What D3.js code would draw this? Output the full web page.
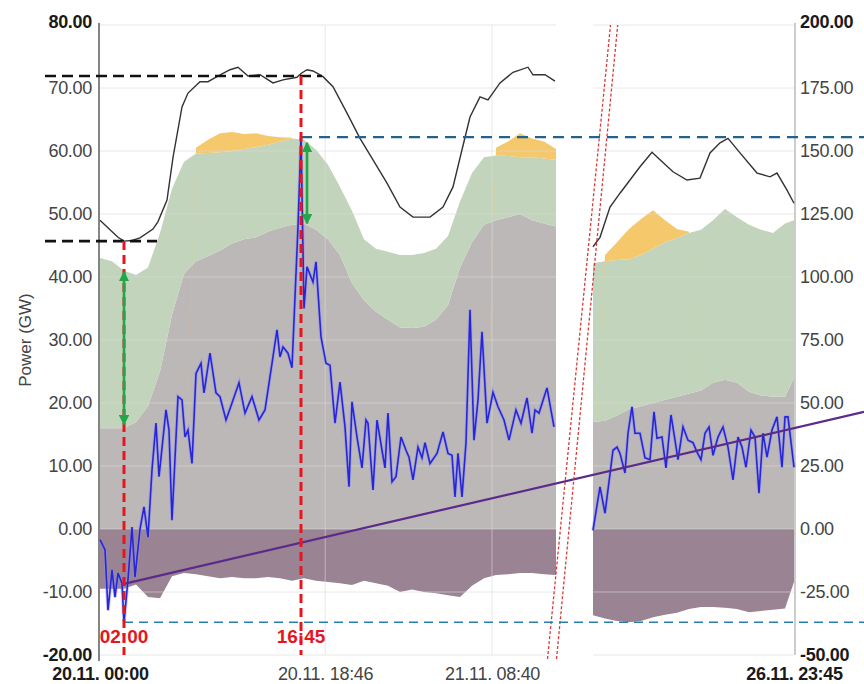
<!DOCTYPE html>
<html>
<head>
<meta charset="utf-8">
<script src="https://cdn.jsdelivr.net/npm/d3@7"></script>
<style>
  body { margin: 0; background: #fff; }
  svg { font-family: "Liberation Sans", Arial, sans-serif; }
</style>
</head>
<body>
<svg id="chart" width="864" height="684"></svg>
<script>
// values (power in GW)

// the time axis is broken: two sections, 20.11 - 21.11 and 26.11
var sectionBounds = ["20.11. 00:00", "21.11. 14:00", "26.11. 07:00", "26.11. 23:45"];
var xTickLabels = ["20.11. 00:00", "20.11. 18:46", "21.11. 08:40", "26.11. 23:45"];
var leftTicks = [80, 70, 60, 50, 40, 30, 20, 10, 0, -10, -20];
var rightTicks = [200, 175, 150, 125, 100, 75, 50, 25, 0, -25, -50];

// hourly stacked layers, first section
var areaTimesLeft = [
  "20.11. 00:00", "20.11. 01:00", "20.11. 02:00", "20.11. 03:00", "20.11. 04:00", "20.11. 05:00",
  "20.11. 06:00", "20.11. 07:00", "20.11. 08:00", "20.11. 09:00", "20.11. 10:00", "20.11. 11:00",
  "20.11. 12:00", "20.11. 13:00", "20.11. 14:00", "20.11. 15:00", "20.11. 16:00", "20.11. 17:00",
  "20.11. 18:00", "20.11. 19:00", "20.11. 20:00", "20.11. 21:00", "20.11. 22:00", "20.11. 23:00",
  "21.11. 00:00", "21.11. 01:00", "21.11. 02:00", "21.11. 03:00", "21.11. 04:00", "21.11. 05:00",
  "21.11. 06:00", "21.11. 07:00", "21.11. 08:00", "21.11. 09:00", "21.11. 10:00", "21.11. 11:00",
  "21.11. 12:00", "21.11. 13:00", "21.11. 14:00"
];
var negLeft = [-9.5, -9.5, -9.5, -8.8, -10.8, -11, -7.5, -7, -7.2, -7.5, -7.8, -7.6, -7.8, -7.8, -7.6,
  -7.8, -8.2, -7.8, -8.2, -8.4, -8.6, -8.9, -8.2, -8.6, -9, -10, -9.6, -10, -10.2, -10.5, -10.8, -9,
  -7.8, -7.3, -7.2, -7, -7, -7.2, -7.3];
var grayLeft = [16, 16, 16, 17, 19.5, 25, 34, 40.5, 42.5, 43.3, 44.2, 45.3, 46, 46.3, 47.2, 47.8,
  48.3, 48.5, 47.5, 46, 43.5, 39, 36.3, 34.5, 33.2, 32, 31.9, 32.1, 33.2, 35.5, 41.5, 45.5, 48.3, 49,
  49.5, 50, 49, 48.5, 48];
var greenLeft = [27, 26.5, 25, 23.3, 22, 22, 20, 17.8, 17.1, 16.4, 15.6, 14.7, 14.3, 14.3, 13.8, 13.7,
  13.7, 13.3, 12.7, 11.8, 10.8, 11.5, 9.7, 10, 10.8, 11.5, 11.6, 11.7, 11.3, 11, 10.5, 11, 10.7, 10.3,
  9.7, 9, 10, 10.3, 10.6];
var orangeLeft = [0, 0, 0, 0, 0, 0, 0, 0, 0.9, 2.1, 3, 3, 2.4, 2.2, 1.4, 0.7, 0.1, 0, 0, 0, 0, 0, 0, 0,
  0, 0, 0, 0, 0, 0, 0, 0, 0, 1.2, 2.3, 3.8, 3, 2.7, 1.7];

// hourly stacked layers, second section
var areaTimesRight = [
  "26.11. 07:00", "26.11. 08:00", "26.11. 09:00", "26.11. 10:00", "26.11. 11:00", "26.11. 12:00",
  "26.11. 13:00", "26.11. 14:00", "26.11. 15:00", "26.11. 16:00", "26.11. 17:00", "26.11. 18:00",
  "26.11. 19:00", "26.11. 20:00", "26.11. 21:00", "26.11. 22:00", "26.11. 23:00", "26.11. 23:45"
];
var negRight = [-13.7, -14.2, -14.6, -14.8, -14.6, -14, -13.6, -13.3, -12.7, -12.4, -12.4, -12.5, -12.7,
  -13.2, -13, -12.8, -12.6, -8.4];
var grayRight = [17, 17.2, 18, 19, 19.5, 20, 20.5, 21, 21.5, 22, 23.2, 23.7, 23.2, 21.8, 21.2, 21, 21, 24];
var greenRight = [25.2, 25.3, 24.7, 23.8, 24, 24.5, 25, 25.2, 25.5, 25.5, 25.8, 27.1, 26.3, 26.5, 26.3,
  26, 27.5, 25];
var orangeRight = [0, 1, 2.8, 4.8, 5.7, 6.1, 3.5, 1.4, 0.2, 0, 0, 0, 0, 0, 0, 0, 0, 0];

// load (black line)
var loadLeft = [
  ["20.11. 00:00", 49], ["20.11. 00:50", 47.5], ["20.11. 01:30", 46.3], ["20.11. 02:00", 45.7],
  ["20.11. 02:40", 45.8], ["20.11. 03:20", 46.2], ["20.11. 04:25", 47.6], ["20.11. 04:50", 48.8],
  ["20.11. 05:35", 52.2], ["20.11. 06:05", 59], ["20.11. 06:50", 67], ["20.11. 07:20", 69.2],
  ["20.11. 08:20", 71], ["20.11. 09:00", 71], ["20.11. 09:45", 71.8], ["20.11. 10:50", 72.9],
  ["20.11. 11:30", 73.3], ["20.11. 12:20", 71.9], ["20.11. 13:20", 72.1], ["20.11. 14:25", 70.8],
  ["20.11. 15:15", 71.3], ["20.11. 16:25", 71.7], ["20.11. 16:45", 72.3], ["20.11. 17:15", 72.9],
  ["20.11. 17:45", 72.7], ["20.11. 18:35", 71.8], ["20.11. 19:25", 70.2], ["20.11. 20:35", 66],
  ["20.11. 21:40", 62], ["20.11. 22:45", 58.6], ["20.11. 23:55", 54.9], ["21.11. 01:00", 51.1],
  ["21.11. 02:05", 49.5], ["21.11. 03:30", 49.5], ["21.11. 04:35", 51.1], ["21.11. 05:25", 54.3],
  ["21.11. 06:10", 60.2], ["21.11. 06:50", 65.4], ["21.11. 07:40", 68.6], ["21.11. 08:20", 68.1],
  ["21.11. 09:20", 70.8], ["21.11. 10:25", 72.5], ["21.11. 11:40", 73.3], ["21.11. 12:05", 72.1],
  ["21.11. 13:05", 72.1], ["21.11. 13:55", 71.1]
];
var loadRight = [
  ["26.11. 07:00", 44.8], ["26.11. 07:35", 46.3], ["26.11. 08:25", 51.1], ["26.11. 09:15", 53.3],
  ["26.11. 10:05", 55.4], ["26.11. 10:55", 57.5], ["26.11. 11:55", 59.8], ["26.11. 12:35", 58.6],
  ["26.11. 13:40", 56.7], ["26.11. 14:50", 55.4], ["26.11. 15:55", 55.7], ["26.11. 16:45", 59.7],
  ["26.11. 17:35", 61.3], ["26.11. 18:15", 62], ["26.11. 19:15", 59.7], ["26.11. 20:40", 56.5],
  ["26.11. 21:45", 55.9], ["26.11. 22:20", 56.5], ["26.11. 23:10", 53.8], ["26.11. 23:45", 51.7]
];

// residual (blue line)
var netLeft = [
  ["20.11. 00:00", -1.7], ["20.11. 00:25", -3.3], ["20.11. 00:40", -12.9], ["20.11. 01:00", -6.5],
  ["20.11. 01:15", -10.8], ["20.11. 01:30", -7], ["20.11. 01:50", -8.6], ["20.11. 02:00", -14.8],
  ["20.11. 02:20", -8], ["20.11. 02:40", 0.3], ["20.11. 02:55", -7.6], ["20.11. 03:20", 0],
  ["20.11. 03:40", 3.5], ["20.11. 04:00", -1.3], ["20.11. 04:20", 9.4], ["20.11. 04:40", 16.8],
  ["20.11. 04:55", 8.3], ["20.11. 05:30", 18.9], ["20.11. 05:45", 15.7], ["20.11. 06:00", 1.4],
  ["20.11. 06:30", 21], ["20.11. 06:50", 20.5], ["20.11. 07:05", 14.6], ["20.11. 07:20", 15.7],
  ["20.11. 07:40", 10.4], ["20.11. 08:00", 24.7], ["20.11. 08:25", 26.3], ["20.11. 08:40", 21.6],
  ["20.11. 09:10", 27.9], ["20.11. 09:40", 21.6], ["20.11. 10:00", 21], ["20.11. 10:30", 17.3],
  ["20.11. 11:00", 20], ["20.11. 11:35", 23.2], ["20.11. 12:05", 18.4], ["20.11. 12:40", 21],
  ["20.11. 13:15", 17.3], ["20.11. 13:45", 18.9], ["20.11. 14:20", 26.3], ["20.11. 14:45", 31.6],
  ["20.11. 15:00", 27.3], ["20.11. 15:15", 28.9], ["20.11. 15:40", 27.9], ["20.11. 16:00", 25.6],
  ["20.11. 16:30", 48], ["20.11. 16:45", 62.2], ["20.11. 17:00", 35], ["20.11. 17:15", 41.6],
  ["20.11. 17:45", 39.2], ["20.11. 18:00", 42.4], ["20.11. 18:25", 30.5], ["20.11. 18:50", 26.3],
  ["20.11. 19:10", 26], ["20.11. 19:35", 16.8], ["20.11. 20:00", 23.3], ["20.11. 20:25", 16.2],
  ["20.11. 20:45", 6.7], ["20.11. 21:00", 20.2], ["20.11. 21:25", 14.6], ["20.11. 21:50", 9.7],
  ["20.11. 22:10", 17.3], ["20.11. 22:20", 16.8], ["20.11. 22:45", 6.2], ["20.11. 23:05", 17.3],
  ["20.11. 23:30", 12.5], ["20.11. 23:45", 9.7], ["21.11. 00:00", 18.4], ["21.11. 00:20", 7.5],
  ["21.11. 00:40", 8.3], ["21.11. 01:05", 14.6], ["21.11. 01:30", 12.5], ["21.11. 01:45", 11.4],
  ["21.11. 02:05", 7.8], ["21.11. 02:30", 13], ["21.11. 02:50", 11.3], ["21.11. 03:05", 13.7],
  ["21.11. 03:30", 10.4], ["21.11. 04:05", 12], ["21.11. 04:35", 15.4], ["21.11. 05:00", 12],
  ["21.11. 05:20", 11.7], ["21.11. 05:35", 5.1], ["21.11. 05:50", 12], ["21.11. 06:10", 5.1],
  ["21.11. 06:30", 13.7], ["21.11. 06:50", 34.8], ["21.11. 07:10", 14.1], ["21.11. 07:30", 20.5],
  ["21.11. 07:50", 31.3], ["21.11. 08:15", 16.8], ["21.11. 08:45", 21.7], ["21.11. 09:10", 19.4],
  ["21.11. 09:40", 17.3], ["21.11. 10:05", 14.1], ["21.11. 10:40", 18.9], ["21.11. 11:05", 16.8],
  ["21.11. 11:35", 20.8], ["21.11. 12:00", 15.2], ["21.11. 12:15", 18.9], ["21.11. 12:35", 18.4],
  ["21.11. 13:15", 22.4], ["21.11. 13:50", 16.2]
];
var netRight = [
  ["26.11. 07:00", -0.2], ["26.11. 07:35", 6.7], ["26.11. 08:00", 2.5], ["26.11. 08:40", 12.5],
  ["26.11. 09:00", 13], ["26.11. 09:15", 12], ["26.11. 09:40", 8.9], ["26.11. 09:55", 15.2],
  ["26.11. 10:15", 19.4], ["26.11. 10:30", 15.2], ["26.11. 10:55", 15.2], ["26.11. 11:20", 11.3],
  ["26.11. 11:45", 11], ["26.11. 12:05", 18.6], ["26.11. 12:20", 14.4], ["26.11. 12:45", 14.6],
  ["26.11. 13:05", 9.7], ["26.11. 13:30", 18.1], ["26.11. 13:50", 14.1], ["26.11. 14:05", 11],
  ["26.11. 14:30", 16.2], ["26.11. 14:55", 14.1], ["26.11. 15:20", 13.7], ["26.11. 15:40", 12.2],
  ["26.11. 16:00", 11], ["26.11. 16:20", 15.2], ["26.11. 16:40", 16.2], ["26.11. 17:00", 11.7],
  ["26.11. 17:25", 14.6], ["26.11. 17:50", 16.2], ["26.11. 18:15", 13], ["26.11. 18:40", 7.8],
  ["26.11. 19:05", 14.6], ["26.11. 19:25", 13], ["26.11. 19:45", 9.8], ["26.11. 20:10", 15.7],
  ["26.11. 20:30", 14.6], ["26.11. 20:50", 5.7], ["26.11. 21:10", 15.2], ["26.11. 21:30", 11.4],
  ["26.11. 21:55", 15.7], ["26.11. 22:20", 17.8], ["26.11. 22:45", 9.8], ["26.11. 23:00", 17.8],
  ["26.11. 23:15", 17.8], ["26.11. 23:45", 9.8]
];

// trend of the residual, runs past the last timestamp
var trendLine = [["20.11. 02:00", -8.7], ["27.11. 05:35", 18.6]];

// extremes that are marked with dashed lines
var minTime = "20.11. 02:00", maxTime = "20.11. 16:45";
var loadMin = 45.7, loadMax = 71.9;
var netMin = -14.8, netMax = 62.2;
var spreadArrows = [
  { t: "20.11. 02:00", from: 40.8, to: 16.6 },
  { t: "20.11. 17:15", from: 61.3, to: 48.5 }
];

var colors = { neg: "#9a8393", gray: "#bdb8b8", green: "#c2d4bb", orange: "#f6c86c" };

var parse = d3.timeParse("%d.%m. %H:%M");

function buildChart() {
  var svg = d3.select("#chart");
  var top = 25, bottom = 655;

  var x = d3.scaleTime()
    .domain(sectionBounds.map(parse))
    .range([100, 556, 593, 794]);
  var y = d3.scaleLinear().domain([-20, 80]).range([bottom, top]);
  var yRight = d3.scaleLinear().domain([-50, 200]).range([bottom, top]);

  var marker = svg.append("defs").append("marker")
    .attr("id", "arrow-green")
    .attr("viewBox", "0 0 10 10")
    .attr("refX", 9).attr("refY", 5)
    .attr("markerWidth", 4).attr("markerHeight", 4)
    .attr("orient", "auto-start-reverse");
  marker.append("path").attr("d", "M0,0L10,5L0,10z").attr("fill", "#22a64a");

  // stacked areas, one block per section
  var keys = ["neg", "gray", "green", "orange"];
  function table(times, neg, gray, green, orange) {
    return times.map(function(t, i) {
      return { t: parse(t), neg: neg[i], gray: gray[i], green: green[i], orange: orange[i] };
    });
  }
  var sections = [
    table(areaTimesLeft, negLeft, grayLeft, greenLeft, orangeLeft),
    table(areaTimesRight, negRight, grayRight, greenRight, orangeRight)
  ];
  var stack = d3.stack().keys(keys).offset(d3.stackOffsetDiverging);
  var area = d3.area()
    .x(function(d) { return x(d.data.t); })
    .y0(function(d) { return y(d[0]); })
    .y1(function(d) { return y(d[1]); });

  sections.forEach(function(rows) {
    svg.append("g")
      .selectAll("path")
      .data(stack(rows))
      .enter()
      .append("path")
      .attr("fill", function(d) { return colors[d.key]; })
      .attr("d", area);
  });

  // grid (broken like the axis)
  var grid = svg.append("g").attr("stroke", "#d8d8d8").attr("stroke-opacity", 0.6);
  [[sectionBounds[0], sectionBounds[1]], [sectionBounds[2], sectionBounds[3]]].forEach(function(s) {
    grid.selectAll(null)
      .data(leftTicks)
      .enter()
      .append("line")
      .attr("x1", x(parse(s[0])))
      .attr("x2", x(parse(s[1])))
      .attr("y1", function(d) { return y(d); })
      .attr("y2", function(d) { return y(d); });
  });
  grid.selectAll(null)
    .data(xTickLabels.slice(1, 3))
    .enter()
    .append("line")
    .attr("x1", function(d) { return x(parse(d)); })
    .attr("x2", function(d) { return x(parse(d)); })
    .attr("y1", top)
    .attr("y2", bottom);

  // axes (plain hyphen minus like the original)
  var fmt = function(d) { return d.toFixed(2); };
  var gl = svg.append("g")
    .attr("transform", "translate(99,0)")
    .call(d3.axisLeft(y).tickValues(leftTicks).tickFormat(fmt).tickSize(0).tickPadding(7));
  var gr = svg.append("g")
    .attr("transform", "translate(795,0)")
    .call(d3.axisRight(yRight).tickValues(rightTicks).tickFormat(fmt).tickSize(0).tickPadding(5));
  var gx = svg.append("g")
    .attr("transform", "translate(0," + bottom + ")")
    .call(d3.axisBottom(x).tickValues(xTickLabels.map(parse))
      .tickFormat(d3.timeFormat("%d.%m. %H:%M")).tickSize(0).tickPadding(12));

  [gl, gr, gx].forEach(function(g) {
    g.select(".domain").remove();
    g.selectAll("text")
      .attr("font-family", "Liberation Sans, Arial, sans-serif")
      .attr("font-size", "18px")
      .attr("fill", "#444")
      .style("letter-spacing", "-0.3px");
    var n = g.selectAll("text").size();
    g.selectAll("text")
      .filter(function(d, i) { return i == 0 || i == n - 1; })
      .attr("fill", "#1a1a1a")
      .attr("font-weight", "bold");
  });

  // lift the lowest y labels a little so they clear the date labels
  [gl, gr].forEach(function(g) {
    g.selectAll("text")
      .filter(function(d, i) { return i == 0; })
      .attr("y", -3);
  });

  svg.append("line")
    .attr("x1", 99).attr("x2", 99).attr("y1", top - 2).attr("y2", bottom + 6)
    .attr("stroke", "#666").attr("stroke-width", 1.6);
  svg.append("line")
    .attr("x1", 795).attr("x2", 795).attr("y1", top - 2).attr("y2", bottom)
    .attr("stroke", "#999").attr("stroke-width", 1);

  svg.append("text")
    .attr("transform", "translate(31," + y(30) + ") rotate(-90)")
    .attr("text-anchor", "middle")
    .attr("font-size", "17px")
    .attr("fill", "#444")
    .text("Power (GW)");

  // lines
  var line = d3.line()
    .x(function(d) { return x(parse(d[0])); })
    .y(function(d) { return y(d[1]); });

  [loadLeft, loadRight].forEach(function(s) {
    svg.append("path").datum(s)
      .attr("d", line)
      .attr("fill", "none")
      .attr("stroke", "#333")
      .attr("stroke-width", 1.4);
  });

  [netLeft, netRight].forEach(function(s) {
    svg.append("path").datum(s)
      .attr("d", line)
      .attr("fill", "none")
      .attr("stroke", "#8c8cf0")
      .attr("stroke-opacity", 0.5)
      .attr("stroke-width", 3.4);
    svg.append("path").datum(s)
      .attr("d", line)
      .attr("fill", "none")
      .attr("stroke", "#2626d6")
      .attr("stroke-width", 1.6);
  });

  svg.append("path").datum(trendLine)
    .attr("d", line)
    .attr("fill", "none")
    .attr("stroke", "#5b2a8a")
    .attr("stroke-width", 2.2);

  // break marks between the two sections
  var gapMid = (x(parse(sectionBounds[1])) + x(parse(sectionBounds[2]))) / 2;
  [-5, 4].forEach(function(o) {
    svg.append("line")
      .attr("x1", gapMid - 22 + o).attr("y1", bottom + 4)
      .attr("x2", gapMid + 40 + o * 0.8).attr("y2", top)
      .attr("stroke", "#d83a3a")
      .attr("stroke-width", 1.3)
      .attr("stroke-dasharray", "3,2");
  });

  // dashed markers for the extremes
  var xMin = x(parse(minTime)), xMax = x(parse(maxTime));
  function hLine(x1, x2, v, color, w, dash) {
    svg.append("line")
      .attr("x1", x1).attr("x2", x2)
      .attr("y1", y(v)).attr("y2", y(v))
      .attr("stroke", color).attr("stroke-width", w)
      .attr("stroke-dasharray", dash);
  }
  hLine(45, xMax + 21, loadMax, "#111", 2.6, "11,6");
  hLine(45, xMin + 33, loadMin, "#111", 2.6, "11,6");
  hLine(xMax, 864, netMax, "#21628f", 2.2, "11,7");
  hLine(xMin, 864, netMin, "#2b7ea6", 1.6, "9,6");

  // red time labels and verticals
  [[minTime, loadMin], [maxTime, loadMax]].forEach(function(m) {
    var xx = x(parse(m[0]));
    svg.append("text")
      .attr("x", xx).attr("y", 643)
      .attr("text-anchor", "middle")
      .attr("font-size", "19px")
      .attr("font-weight", "bold")
      .attr("fill", "#e5161e")
      .text(m[0].slice(7));
    svg.append("line")
      .attr("x1", xx).attr("x2", xx)
      .attr("y1", y(m[1])).attr("y2", bottom)
      .attr("stroke", "#e5161e").attr("stroke-width", 3)
      .attr("stroke-dasharray", "9,5");
  });

  // green spread arrows
  svg.selectAll("line.arrow")
    .data(spreadArrows)
    .enter()
    .append("line")
    .attr("class", "arrow")
    .attr("x1", function(d) { return x(parse(d.t)); })
    .attr("x2", function(d) { return x(parse(d.t)); })
    .attr("y1", function(d) { return y(d.from); })
    .attr("y2", function(d) { return y(d.to); })
    .attr("stroke", "#22a64a")
    .attr("stroke-width", 2.6)
    .attr("marker-start", "url(#arrow-green)")
    .attr("marker-end", "url(#arrow-green)");
}

buildChart();
</script>
</body>
</html>
